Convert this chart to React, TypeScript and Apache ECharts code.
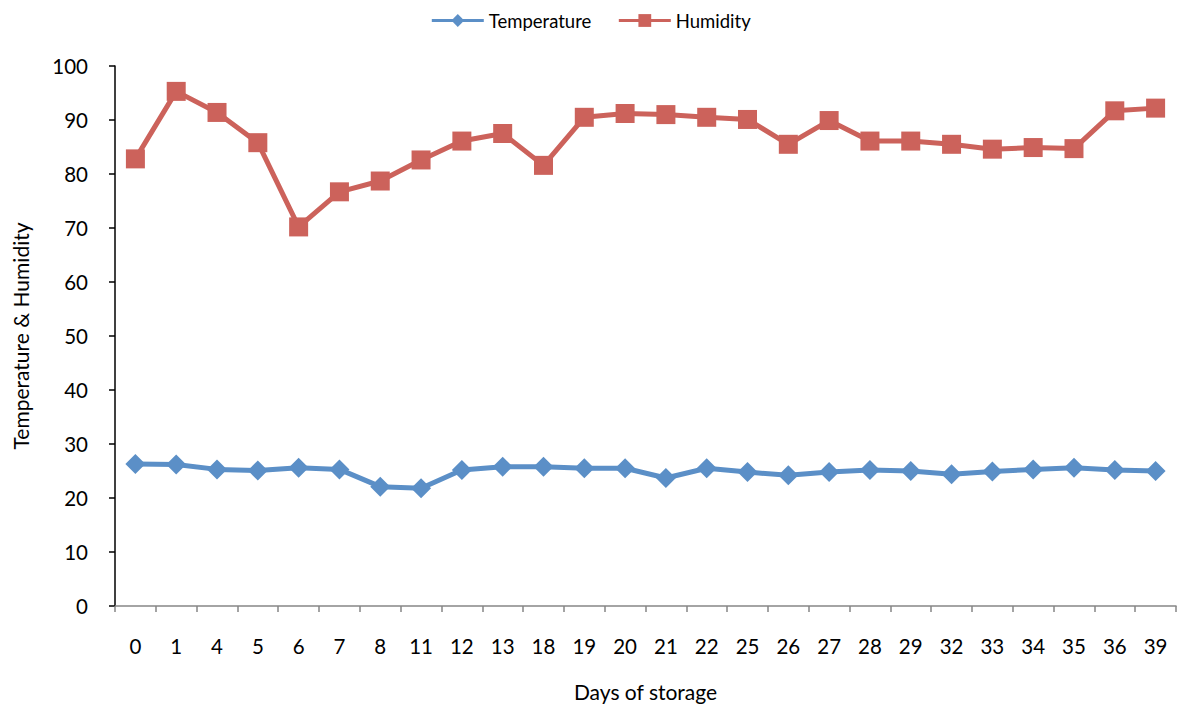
import React, { useEffect, useRef } from "react";
import * as echarts from "echarts";

const days = ["0","1","4","5","6","7","8","11","12","13","18","19","20","21","22","25","26","27","28","29","32","33","34","35","36","39"];
const temperature = [26.3,26.2,25.3,25.1,25.6,25.3,22.1,21.8,25.2,25.8,25.8,25.5,25.5,23.7,25.5,24.8,24.2,24.8,25.2,25.0,24.4,24.9,25.3,25.6,25.2,25.0];
const humidity = [82.8,95.3,91.4,85.8,70.2,76.7,78.7,82.6,86.1,87.5,81.6,90.5,91.2,91.0,90.5,90.1,85.5,89.9,86.1,86.1,85.5,84.6,84.9,84.7,91.7,92.2];
const yTicks = { min: 0, max: 100, interval: 10 };

const FONT = "Lato, 'Open Sans', sans-serif";
const BLUE = "#5B8FC7";
const RED = "#CC625B";

export default function App() {
  const ref = useRef<HTMLDivElement>(null);
  useEffect(() => {
    if (!ref.current) return;
    const chart = echarts.init(ref.current, null, { renderer: "svg" });
    chart.setOption({
      animation: false,
      backgroundColor: "#ffffff",
      textStyle: { fontFamily: FONT, color: "#000" },
      legend: {
        top: 6,
        left: "center",
        itemWidth: 52,
        itemHeight: 16,
        itemGap: 26,
        lineStyle: { width: 3 },
        textStyle: { fontSize: 18.5, color: "#000", fontFamily: FONT },
        data: ["Temperature", "Humidity"],
      },
      grid: { left: 115, right: 5, top: 66, bottom: 94, containLabel: false },
      xAxis: {
        type: "category",
        data: days,
        boundaryGap: true,
        name: "Days of storage",
        nameLocation: "middle",
        nameGap: 75,
        nameTextStyle: { fontSize: 21, color: "#000", fontFamily: FONT },
        axisLine: { lineStyle: { color: "#868686", width: 1.5 } },
        axisTick: { show: true, interval: 0, alignWithLabel: false, length: 6, lineStyle: { color: "#868686", width: 1.5 } },
        axisLabel: { interval: 0, fontSize: 20.5, color: "#000", margin: 29, fontFamily: FONT },
        splitLine: { show: false },
      },
      yAxis: {
        type: "value",
        min: yTicks.min,
        max: yTicks.max,
        interval: yTicks.interval,
        name: "Temperature & Humidity",
        nameLocation: "middle",
        nameGap: 84,
        nameTextStyle: { fontSize: 21, color: "#000", fontFamily: FONT },
        axisLine: { show: true, lineStyle: { color: "#000", width: 1.5 } },
        axisTick: { show: true, length: 6, lineStyle: { color: "#000", width: 1.5 } },
        axisLabel: { fontSize: 20.5, color: "#000", margin: 27, fontFamily: FONT },
        splitLine: { show: false },
      },
      series: [
        {
          name: "Temperature",
          type: "line",
          data: temperature,
          symbol: "diamond",
          symbolSize: 20,
          lineStyle: { color: BLUE, width: 5 },
          itemStyle: { color: BLUE },
        },
        {
          name: "Humidity",
          type: "line",
          data: humidity,
          symbol: "rect",
          symbolSize: 19,
          lineStyle: { color: RED, width: 5 },
          itemStyle: { color: RED },
        },
      ],
    });
    return () => chart.dispose();
  }, []);
  return <div ref={ref} style={{ position: "fixed", left: 0, top: 0, width: 1181, height: 707 }} />;
}
